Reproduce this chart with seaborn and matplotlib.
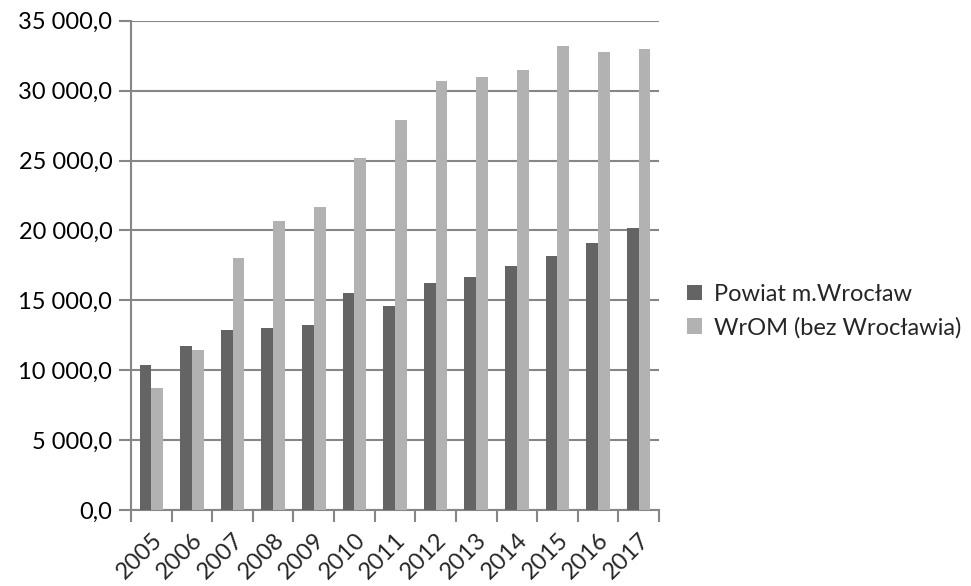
import numpy as np
import pandas as pd
import matplotlib
matplotlib.use("Agg")
import matplotlib.pyplot as plt
import seaborn as sns
from matplotlib.ticker import FuncFormatter, FixedLocator

years = ["2005", "2006", "2007", "2008", "2009", "2010", "2011", "2012",
         "2013", "2014", "2015", "2016", "2017"]
powiat_wroclaw = [10400, 11760, 12840, 13050, 13260, 15550, 14620, 16260,
                  16690, 17480, 18190, 19120, 20190]
wrom_bez = [8760, 11410, 18050, 20690, 21690, 25190, 27910, 30690,
            30980, 31480, 33190, 32760, 32980]
series_names = ["Powiat m.Wrocław", "WrOM (bez Wrocławia)"]
y_ticks = [0, 5000, 10000, 15000, 20000, 25000, 30000, 35000]

df = pd.DataFrame({
    "year": years * 2,
    "value": powiat_wroclaw + wrom_bez,
    "series": [series_names[0]] * len(years) + [series_names[1]] * len(years),
})

sns.set_theme(style="white")
plt.rcParams["font.family"] = ["Lato", "DejaVu Sans"]
FS = 17

fig = plt.figure(figsize=(9.71, 5.86), dpi=100)
ax = fig.add_axes([131/971, 1-510/586, (659-131)/971, (510-20.7)/586])

grid_c = "#868686"
sns.barplot(data=df, x="year", y="value", hue="series", order=years,
            hue_order=series_names, palette=["#646464", "#b2b2b2"],
            saturation=1, width=0.58, ax=ax, legend=True, zorder=3,
            linewidth=0, edgecolor="none")

ax.set_ylim(0, 35000)
ax.set_xlim(-0.5, len(years) - 0.5)
ax.yaxis.set_major_locator(FixedLocator(y_ticks))
ax.yaxis.set_major_formatter(FuncFormatter(
    lambda v, p: f"{v:,.1f}".replace(",", " ").replace(".", ",")))
ax.grid(axis="y", color=grid_c, linewidth=1.5, zorder=0)
ax.set_axisbelow(True)

for s in ["top", "right"]:
    ax.spines[s].set_visible(False)
for s in ["left", "bottom"]:
    ax.spines[s].set_color(grid_c)
    ax.spines[s].set_linewidth(1.5)

ax.set_xlabel("")
ax.set_ylabel("")
ax.tick_params(axis="y", left=True, length=8.5, width=1.5, color=grid_c,
               labelsize=FS, labelcolor="black", pad=5)
ax.set_xticks(np.arange(len(years)))
ax.set_xticklabels(years, rotation=45, ha="right", rotation_mode="anchor",
                   fontsize=FS)
ax.tick_params(axis="x", which="major", bottom=True, length=0, pad=14)
ax.set_xticks(np.arange(len(years) + 1) - 0.5, minor=True)
ax.tick_params(axis="x", which="minor", bottom=True, length=8.5, width=1.5,
               color=grid_c)

ax.legend(loc="center left", bbox_to_anchor=(687/971, 1-311/586),
          bbox_transform=fig.transFigure, frameon=False, fontsize=FS,
          handlelength=0.65, handleheight=0.65, handletextpad=0.5,
          labelspacing=0.5, borderpad=0, borderaxespad=0, title=None)

fig.savefig("out.png", dpi=100)
